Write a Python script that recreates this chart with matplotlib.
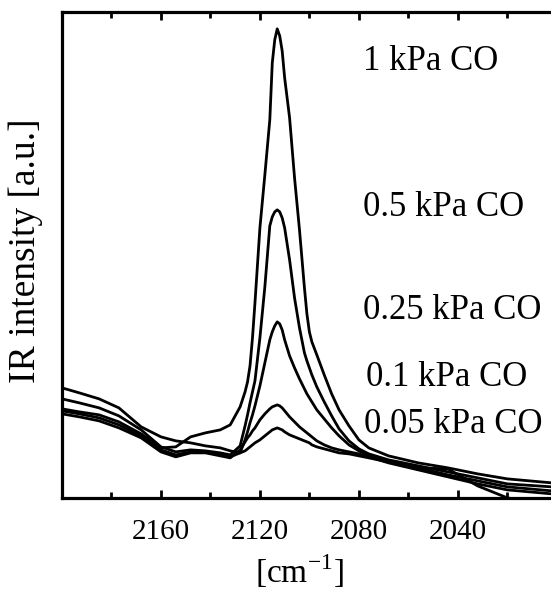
import numpy as np
import matplotlib
matplotlib.use('Agg')
import matplotlib.pyplot as plt
from matplotlib.ticker import MultipleLocator


# <============DATA============>#

# wavenumber [cm-1]
wavenumber = [2200, 2193, 2185, 2177, 2168, 2160, 2154, 2148, 2142, 2136,
              2132, 2128, 2126, 2125, 2124, 2123, 2122, 2120, 2118, 2116,
              2115, 2114, 2113, 2112, 2111, 2110, 2108, 2106, 2104, 2102,
              2101, 2100, 2099, 2097, 2094, 2091, 2088, 2084, 2080, 2076,
              2068, 2056, 2044, 2032, 2020, 2002]

# IR intensity [a.u.]
co_1 = [89, 86, 83, 76, 64, 50, 51, 61, 65, 68,
        73, 91, 106, 116, 132, 160, 195, 270, 323, 378,
        435, 458, 469, 462, 447, 420, 380, 320, 268, 210,
        184, 166, 156, 143, 123, 104, 88, 72, 58, 50,
        42, 35, 30, 24, 19, 15]
co_05 = [99, 95, 90, 82, 68, 51, 46, 48, 47, 45,
         43, 52, 72, 83, 95, 106, 117, 160, 211, 272,
         281, 286, 288, 286, 280, 270, 238, 200, 170, 145,
         137, 130, 123, 111, 96, 82, 69, 57, 49, 44,
         38, 32, 26, 20, 14, 11]
co_025 = [87, 84, 80, 73, 62, 48, 43, 46, 46, 43,
          41, 45, 58, 66, 75, 83, 92, 112, 135, 158,
          166, 172, 176, 174, 168, 158, 142, 130, 119, 109,
          104, 100, 96, 88, 79, 70, 62, 53, 47, 42,
          36, 30, 23, 17, 11, 7]
co_01 = [84, 81, 77, 70, 60, 46, 41, 45, 45, 42,
         40, 48, 56, 60, 63, 67, 70, 78, 84, 89,
         91, 92, 93, 92, 90, 87, 81, 76, 71, 67,
         65, 63, 61, 57, 53, 50, 48, 46, 44, 41,
         35, 28, 21, 14, 8, 4]
co_005 = [110, 105, 99, 90, 71, 61, 57, 55, 52, 50,
          47, 45, 47, 49, 51, 53, 55, 58, 62, 66,
          68, 69, 70, 69, 68, 66, 63, 61, 59, 57,
          56, 55, 53, 51, 49, 47, 45, 44, 42, 40,
          36, 30, 29, 12, 0, -7]

spectra = [co_1, co_05, co_025, co_01, co_005]
labels = ['1 kPa CO', '0.5 kPa CO', '0.25 kPa CO', '0.1 kPa CO', '0.05 kPa CO']
label_x = [2078.4, 2078.4, 2078.4, 2077.2, 2078.0]
label_y = [436, 290, 187, 120, 73]


# <============PLOTING============>#

plt.rcParams['font.family'] = ['Liberation Serif', 'DejaVu Serif']
plt.rcParams['mathtext.fontset'] = 'custom'
plt.rcParams['mathtext.rm'] = 'Liberation Serif'

fig = plt.figure(figsize=(5.51, 5.92), dpi=100)
ax = fig.add_axes([0.1125, 0.159, 0.898, 0.821])

for s in spectra:
    ax.plot(wavenumber, s, color='black', lw=2.0, solid_joinstyle='round')

for text, x, y in zip(labels, label_x, label_y):
    ax.text(x, y, text, fontsize=25, va='center', ha='left')

ax.set_xlim(2200, 2000)
ax.set_ylim(0, 486)
ax.xaxis.set_minor_locator(MultipleLocator(20))
ax.set_xticks([2160, 2120, 2080, 2040])
ax.set_yticks([])
ax.tick_params(axis='x', which='both', direction='in', top=True,
               width=2, labelsize=21, pad=15)
ax.tick_params(axis='x', which='major', length=6)
ax.tick_params(axis='x', which='minor', length=4)
for sp in ax.spines.values():
    sp.set_linewidth(2.3)

ax.set_xlabel(r'[cm$^{\mathregular{-1}}$]', fontsize=24)
ax.xaxis.set_label_coords(0.48, -0.112)
ax.set_ylabel('IR intensity [a.u.]', fontsize=27)
ax.yaxis.set_label_coords(-0.038, 0.508)

fig.savefig('out.png', dpi=100)
